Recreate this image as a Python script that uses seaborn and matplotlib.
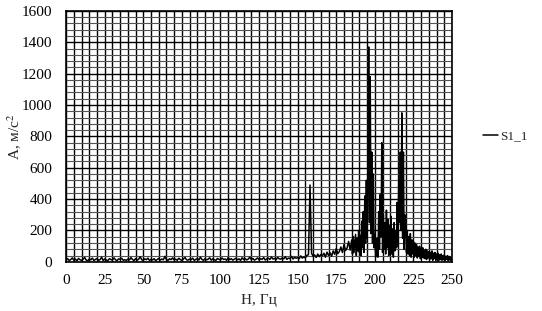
import numpy as np
import pandas as pd
import matplotlib
matplotlib.use('Agg')
import matplotlib.pyplot as plt
from matplotlib.ticker import MultipleLocator
import seaborn as sns

# ---- data: spectrum S1_1 ----
# 0..184 Hz, step 1 Hz (noise floor + peak at 158 Hz)
hz_lo = np.arange(0, 185, 1)
amp_lo = [
    12, 20, 8, 15, 25, 10, 18, 6, 22, 14,
    9, 17, 28, 11, 7, 19, 13, 24, 8, 16,
    21, 10, 14, 30, 9, 18, 12, 7, 20, 15,
    11, 26, 13, 8, 19, 16, 23, 10, 14, 9,
    18, 12, 27, 15, 8, 21, 11, 17, 33, 13,
    10, 19, 14, 24, 9, 16, 12, 20, 8, 15,
    22, 11, 18, 13, 35, 16, 9, 20, 14, 25,
    12, 17, 10, 23, 15, 8, 19, 28, 13, 11,
    18, 14, 24, 9, 16, 21, 12, 30, 15, 10,
    20, 13, 17, 26, 11, 19, 14, 9, 22, 16,
    12, 25, 15, 18, 10, 28, 14, 20, 11, 17,
    23, 13, 19, 9, 26, 15, 21, 12, 18, 30,
    14, 22, 11, 17, 25, 13, 20, 16, 27, 12,
    19, 24, 15, 31, 18, 22, 14, 28, 20, 17,
    26, 19, 33, 16, 24, 21, 35, 18, 29, 23,
    27, 20, 38, 24, 31, 26, 42, 45, 490, 55,
    35, 44, 28, 50, 33, 47, 38, 55, 30, 62,
    41, 58, 36, 70, 48, 85, 52, 66, 95, 60,
    110, 72, 88, 130, 75,
]
# 185..250 Hz, step 0.5 Hz (main resonance group)
hz_hi = np.arange(185, 250.25, 0.5)
amp_hi = [
    140, 50, 160, 60, 120, 175, 40, 150, 70, 200,
    60, 170, 40, 260, 90, 320, 60, 420, 120, 520,
    150, 640, 1370, 250, 1180, 180, 700, 120, 560, 90,
    180, 30, 60, 150, 30, 320, 80, 430, 160, 760,
    60, 300, 80, 250, 50, 330, 90, 270, 40, 230,
    60, 290, 50, 210, 30, 250, 70, 200, 90, 380,
    100, 520, 250, 700, 200, 950, 150, 700, 80, 300,
    240, 60, 200, 50, 160, 40, 180, 30, 140, 50,
    130, 30, 120, 40, 110, 25, 95, 35, 100, 20,
    85, 30, 90, 25, 75, 20, 80, 15, 70, 25,
    65, 15, 60, 20, 70, 10, 55, 20, 60, 10,
    50, 15, 55, 10, 45, 15, 50, 10, 40, 15,
    45, 10, 35, 15, 40, 8, 35, 12, 30, 8,
    25,
]

df = pd.DataFrame({
    'H': np.concatenate([hz_lo, hz_hi]),
    'A': np.concatenate([amp_lo, amp_hi]),
})

# ---- style ----
sns.set_style('white')
plt.rcParams['font.family'] = ['Liberation Serif', 'DejaVu Serif']
plt.rcParams['mathtext.fontset'] = 'stix'

fig = plt.figure(figsize=(5.42, 3.11), dpi=100)
ax = fig.add_axes([0.122, 0.158, 0.712, 0.807])

sns.lineplot(data=df, x='H', y='A', color='black', linewidth=1.1,
             label='S1_1', ax=ax, zorder=3)

ax.set_xlim(0, 250)
ax.set_ylim(0, 1600)
ax.xaxis.set_major_locator(MultipleLocator(25))
ax.xaxis.set_minor_locator(MultipleLocator(5))
ax.yaxis.set_major_locator(MultipleLocator(200))
ax.yaxis.set_minor_locator(MultipleLocator(40))

ax.grid(which='major', axis='both', color='black', linewidth=1.0)
ax.grid(which='minor', axis='x', color='black', linewidth=1.0)
ax.grid(which='minor', axis='y', color='#555555', linewidth=0.8)
ax.set_axisbelow(True)

ax.tick_params(which='both', length=0, labelsize=11, colors='black')
ax.tick_params(axis='y', pad=10)
ax.tick_params(axis='x', pad=9)
for s in ax.spines.values():
    s.set_color('black')
    s.set_linewidth(1.2)

ax.set_xlabel('Н, Гц', fontsize=11, labelpad=5)
ax.set_ylabel('А, м/с$^2$', fontsize=11)
ax.yaxis.set_label_coords(-0.108, 0.5)

ax.legend(loc='center left', bbox_to_anchor=(1.05, 0.5), frameon=False,
          fontsize=9.5, handlelength=1.1, handletextpad=0.2)

fig.savefig('out.png', dpi=100, facecolor='white')
